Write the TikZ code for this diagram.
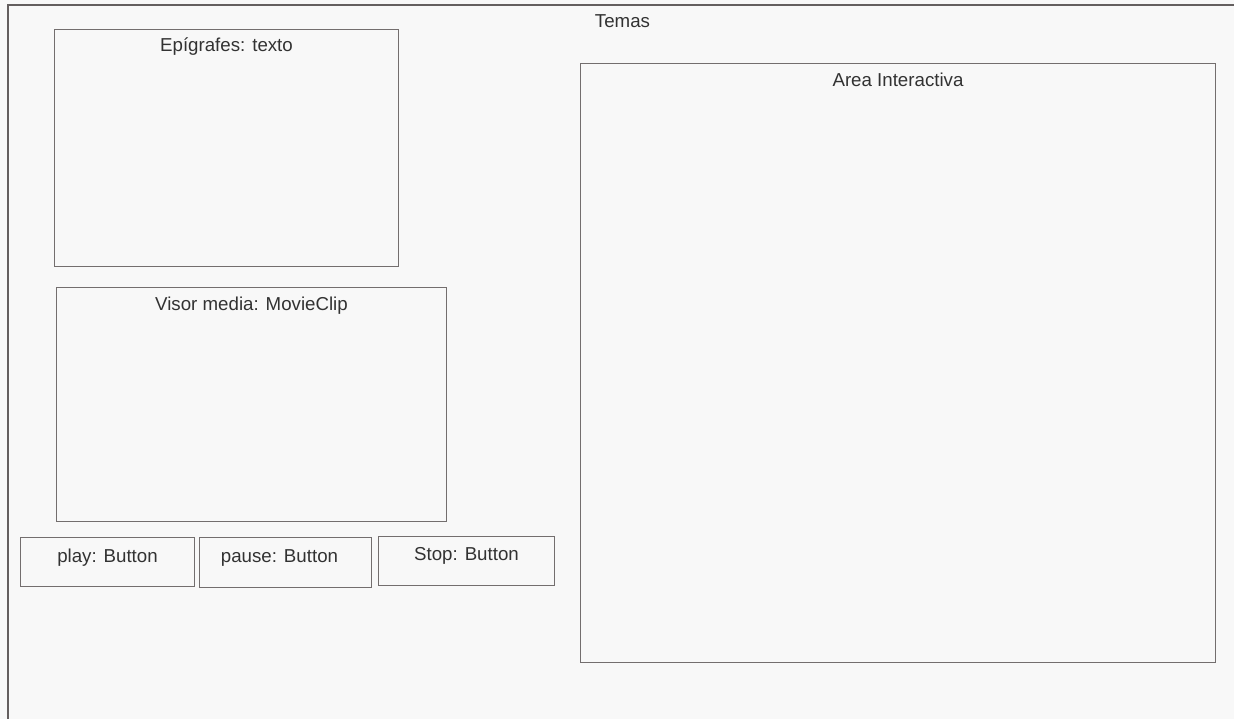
\documentclass[tikz,border=0pt]{standalone}
\usepackage{fontspec}
\setmainfont{Liberation Sans}
\usetikzlibrary{calc}
\definecolor{paper}{RGB}{248,248,248}
\definecolor{frameline}{RGB}{100,95,95}
\definecolor{boxline}{RGB}{115,110,110}
\definecolor{ink}{RGB}{50,50,50}
\begin{document}
\begin{tikzpicture}[x=1pt,y=-1pt,
  panel/.style={draw=boxline, line width=1pt, fill=none, inner sep=0pt, anchor=north west},
  lbl/.style={anchor=base, inner sep=0pt, text=ink, font=\fontsize{18.7}{21}\selectfont}]
  % page background
  \fill[paper] (0,0) rectangle (1234,719);
  \useasboundingbox (0,0) rectangle (1234,719);
  % outer frame (open to the right and bottom)
  \coordinate (fbl) at (8,719);
  \coordinate (ftl) at (8,5);
  \coordinate (ftr) at (1234,5);
  \draw[frameline, line width=1.4pt] (fbl) -- (ftl) -- (ftr);
  \node[lbl] (temas) at (622.5,28) {Temas};

  % panels
  \node[panel, minimum width=344pt, minimum height=237pt] (epi) at (54,29) {};
  \node[panel, minimum width=390pt, minimum height=234pt] (visor) at (56,287) {};
  \node[panel, minimum width=174pt, minimum height=49pt] (play) at (20,537) {};
  \node[panel, minimum width=172pt, minimum height=50pt] (pause) at (199,537) {};
  \node[panel, minimum width=176pt, minimum height=49pt] (stop) at (378,536) {};
  \node[panel, minimum width=635pt, minimum height=599pt] (area) at (580,63) {};

  % panel titles
  \node[lbl] at ($(epi.north)+(0,23)$) {Epígrafes: texto};
  \node[lbl] at ($(visor.north)+(0,24)$) {Visor media: MovieClip};
  \node[lbl] at ($(play.north)+(0,25)$) {play: Button};
  \node[lbl] at ($(pause.north)+(-6,25)$) {pause: Button};
  \node[lbl] at ($(stop.north)+(0,24)$) {Stop: Button};
  \node[lbl] at ($(area.north)+(0,24)$) {Area Interactiva};
\end{tikzpicture}
\end{document}
